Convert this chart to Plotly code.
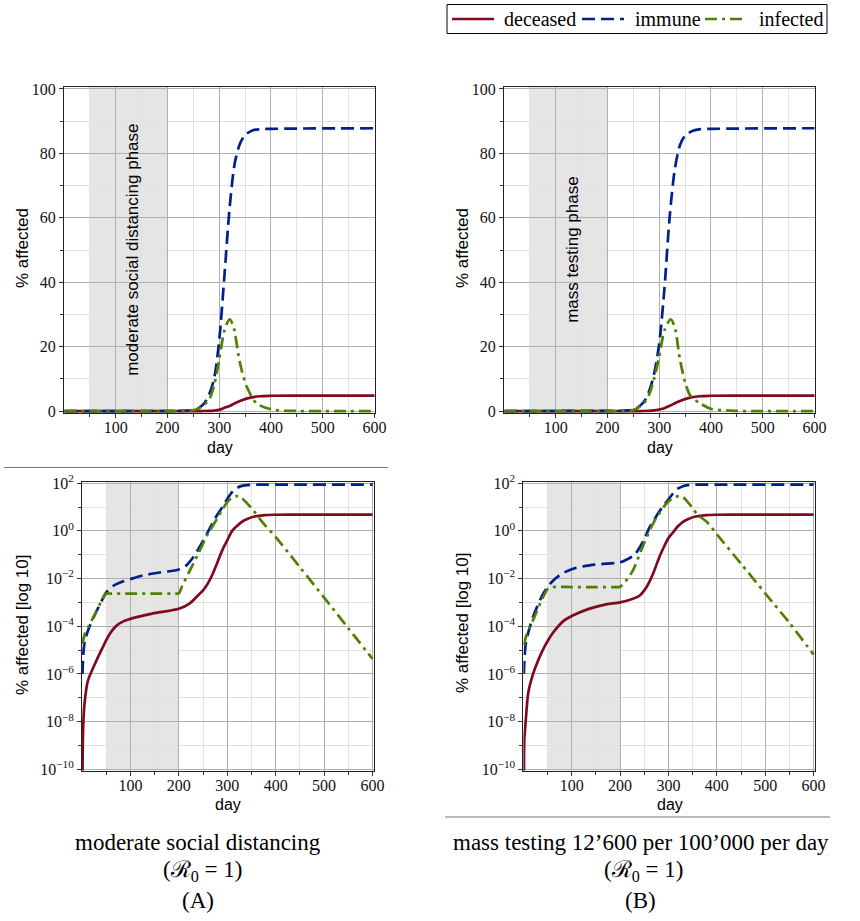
import plotly.graph_objects as go

W, H = 860, 921

# ---------------- data (percent of population) ----------------
# Scenario A: moderate social distancing
dec_a_days = [1, 2, 5, 12, 28, 42, 55, 70, 85, 105, 145, 200, 222, 240, 250, 260, 270, 280, 290,
              300, 310, 320, 330, 340, 356, 378, 400, 450, 600]
dec_a = [1e-11, 3e-9, 5e-8, 5e-7, 3e-6, 1.2e-5, 4e-5, 1.0e-4, 1.6e-4, 2.2e-4, 3.4e-4, 5.4e-4, 8.9e-4,
         2.0e-3, 3.2e-3, 6.3e-3, 0.016, 0.05, 0.16, 0.4, 1.0, 1.6, 2.4, 3.1, 4.0, 4.6, 4.75, 4.8, 4.8]

imm_a_days = [1, 3, 6, 15, 28, 40, 50, 65, 80, 100, 125, 160, 200, 215, 230, 245, 260, 270, 280, 290,
              300, 310, 320, 330, 340, 350, 365, 380, 400, 450, 600]
imm_a = [1e-6, 8e-6, 2.5e-5, 9e-5, 3.5e-4, 1.1e-3, 2.6e-3, 5e-3, 7e-3, 9.5e-3, 1.35e-2, 1.8e-2, 2.4e-2,
         3.5e-2, 0.08, 0.25, 0.9, 2.2, 5.0, 10.0, 22.0, 42.0, 63.0, 77.0, 83.0, 85.7, 87.2, 87.5, 87.6,
         87.7, 87.8]

inf_a_days = [1, 6, 15, 28, 40, 50, 60, 100, 150, 195, 200, 207, 220, 240, 260, 280, 290, 300, 310,
              320, 327, 340, 353, 372, 400, 450, 500, 550, 600]
inf_a = [1.8e-5, 5e-5, 1.1e-4, 3.6e-4, 1.1e-3, 2.3e-3, 2.35e-3, 2.35e-3, 2.35e-3, 2.35e-3, 2.4e-3,
         5e-3, 0.017, 0.11, 0.75, 3.5, 8.0, 16.0, 25.0, 28.5, 26.5, 15.0, 7.6, 2.4, 0.55, 0.03,
         1.6e-3, 8.2e-5, 4.3e-6]

# Scenario B: mass testing
dec_b_days = [1, 2, 4, 10, 20, 30, 41, 52, 62, 82, 103, 137, 171, 200, 225, 240, 250, 260, 270, 280,
              290, 300, 310, 320, 330, 340, 356, 378, 400, 450, 600]
dec_b = [1e-11, 2e-9, 6.3e-9, 1.6e-7, 1e-6, 3.5e-6, 1.1e-5, 2.8e-5, 5.6e-5, 1.6e-4, 2.9e-4, 5.5e-4,
         8.3e-4, 1.0e-3, 1.4e-3, 1.9e-3, 3.2e-3, 7e-3, 0.02, 0.07, 0.2, 0.5, 0.9, 1.6, 2.4, 3.1, 4.0,
         4.6, 4.75, 4.8, 4.8]

imm_b_days = [1, 3, 6, 20, 41, 55, 75, 103, 137, 171, 200, 215, 230, 250, 260, 270, 280, 290, 300,
              310, 320, 330, 340, 350, 365, 380, 400, 450, 600]
imm_b = [1e-6, 8e-6, 2.5e-5, 2.5e-4, 2.3e-3, 6e-3, 1.4e-2, 2.6e-2, 3.6e-2, 4.2e-2, 4.8e-2, 6.5e-2,
         0.1, 0.45, 1.3, 2.8, 6.0, 11.5, 21.0, 38.0, 60.0, 75.0, 82.5, 85.5, 87.0, 87.5, 87.6, 87.7, 87.8]

inf_b_days = [1, 6, 20, 41, 51, 60, 100, 150, 195, 200, 210, 226, 250, 270, 280, 290, 300, 310, 322,
              330, 340, 350, 360, 380, 400, 450, 500, 550, 600]
inf_b = [1.6e-5, 4e-5, 1.8e-4, 1.7e-3, 3.8e-3, 4.4e-3, 4.4e-3, 4.4e-3, 4.4e-3, 4.5e-3, 7e-3, 0.021,
         0.32, 2.4, 5.0, 10.0, 17.0, 25.0, 28.5, 26.0, 16.0, 9.0, 4.8, 2.3, 0.72, 0.042, 2.4e-3,
         1.4e-4, 6.5e-6]

series_names = ["deceased", "immune", "infected"]
colors = {"deceased": "#7f0a1e", "immune": "#00208c", "infected": "#4f8000"}
dashes = {"deceased": "solid", "immune": "13px,6px", "infected": "12px,5px,3px,5px"}

scenario_a = {"deceased": (dec_a_days, dec_a), "immune": (imm_a_days, imm_a),
              "infected": (inf_a_days, inf_a)}
scenario_b = {"deceased": (dec_b_days, dec_b), "immune": (imm_b_days, imm_b),
              "infected": (inf_b_days, inf_b)}

x_ticks = [100, 200, 300, 400, 500, 600]
x_minor = [50, 150, 250, 350, 450, 550]
lin_ticks = [0, 20, 40, 60, 80, 100]
lin_minor = [10, 30, 50, 70, 90]
log_tick_exps = [2, 0, -2, -4, -6, -8, -10]
log_minor_exps = [1, -1, -3, -5, -7, -9]

phase_start, phase_end = 50, 200

SERIF = "Liberation Serif, Times New Roman, serif"
SANS = "Liberation Sans, Arial, sans-serif"
MAJ = "#b0b0b0"
MIN = "#e2e2e2"
LW = 2.7


def px_x(p):
    return p / W


def px_y(p):
    return 1 - p / H


fig = go.Figure()

# panel definitions: (axis suffix, scenario, log?, x domain px, y domain px, x range)
panels = [
    ("", scenario_a, False, (64, 375), (413, 87), [0, 601]),
    ("2", scenario_b, False, (504, 815), (413, 87), [0, 601]),
    ("3", scenario_a, True, (82, 374), (770.5, 482), [0, 603]),
    ("4", scenario_b, True, (523.4, 815), (770.5, 482), [0, 603]),
]

layout_axes = {}
for idx, (suf, scen, is_log, xd, yd, xr) in enumerate(panels):
    for name in series_names:
        d, v = scen[name]
        fig.add_trace(go.Scatter(
            x=d, y=v, mode="lines", name=name,
            line=dict(color=colors[name], width=LW, dash=dashes[name], shape="spline", smoothing=0.8),
            xaxis="x" + suf, yaxis="y" + suf,
            showlegend=False, hoverinfo="skip",
        ))
    xa = dict(
        domain=[px_x(xd[0]), px_x(xd[1])], range=xr, anchor="y" + suf,
        tickmode="array", tickvals=x_ticks, ticktext=[str(t) for t in x_ticks],
        ticks="outside", ticklen=4, tickcolor="#333", ticklabelstandoff=-4,
        tickfont=dict(family=SERIF, size=16, color="#111"),
        showgrid=True, gridcolor=MAJ, gridwidth=1,
        minor=dict(tickvals=x_minor, showgrid=True, gridcolor=MIN, ticks="outside", ticklen=3,
                   tickcolor="#333"),
        showline=True, linecolor="#222", linewidth=1, mirror=True, zeroline=False,
        fixedrange=True, automargin=False,
    )
    if is_log:
        ya = dict(
            type="log", range=[-10.05, 2.05],
            tickmode="array", tickvals=[10.0 ** e for e in log_tick_exps],
            ticktext=["10<sup>%s</sup>" % (str(e).replace("-", "\u2212")) for e in log_tick_exps],
            minor=dict(tickvals=[10.0 ** e for e in log_minor_exps], showgrid=True, gridcolor=MIN,
                       ticks="outside", ticklen=3, tickcolor="#333"),
        )
    else:
        ya = dict(
            range=[-0.6, 100.6],
            tickmode="array", tickvals=lin_ticks, ticktext=[str(t) for t in lin_ticks],
            minor=dict(tickvals=lin_minor, showgrid=True, gridcolor=MIN, ticks="outside", ticklen=3,
                       tickcolor="#333"),
        )
    ya.update(
        domain=[px_y(yd[0]), px_y(yd[1])], anchor="x" + suf,
        ticks="outside", ticklen=4, tickcolor="#333",
        tickfont=dict(family=SERIF, size=16, color="#111"),
        showgrid=True, gridcolor=MAJ, gridwidth=1,
        showline=True, linecolor="#222", linewidth=1, mirror=True, zeroline=False,
        fixedrange=True, automargin=False,
    )
    layout_axes["xaxis" + suf] = xa
    layout_axes["yaxis" + suf] = ya

fig.update_layout(**layout_axes)

shapes = []
for suf, *_ in panels:
    shapes.append(dict(type="rect", xref="x" + suf, yref=("y" + suf + " domain"),
                       x0=phase_start, x1=phase_end, y0=0, y1=1,
                       fillcolor="#e5e5e5", line=dict(width=0), layer="below"))
# separator lines
shapes.append(dict(type="line", xref="paper", yref="paper", x0=px_x(4), x1=px_x(388),
                   y0=px_y(467.5), y1=px_y(467.5), line=dict(color="#777", width=1)))
shapes.append(dict(type="line", xref="paper", yref="paper", x0=px_x(445), x1=px_x(830),
                   y0=px_y(817), y1=px_y(817), line=dict(color="#777", width=1)))

annotations = []


def ann(text, x, y, size, family, angle=0, color="#000", xanchor="center"):
    annotations.append(dict(text=text, x=px_x(x), y=px_y(y), xref="paper", yref="paper",
                            showarrow=False, textangle=angle, xanchor=xanchor, yanchor="middle",
                            font=dict(family=family, size=size, color=color)))


# legend (box, line samples, labels)
shapes.append(dict(type="rect", xref="paper", yref="paper", x0=px_x(447), x1=px_x(827),
                   y0=px_y(33.5), y1=px_y(4.5), line=dict(color="#000", width=1),
                   fillcolor="white"))
legend_lines = {"deceased": (452, 494), "immune": (582, 624), "infected": (705, 747)}
legend_text_x = {"deceased": 502, "immune": 633, "infected": 757}
for name in series_names:
    x0, x1 = legend_lines[name]
    shapes.append(dict(type="line", xref="paper", yref="paper", x0=px_x(x0), x1=px_x(x1),
                       y0=px_y(19), y1=px_y(19),
                       line=dict(color=colors[name], width=LW, dash=dashes[name])))
    ann(name, legend_text_x[name], 19, 20, SERIF, xanchor="left")

# axis titles
ann("% affected", 22, 248, 17, SANS, -90)
ann("% affected", 462, 248, 17, SANS, -90)
ann("% affected [log 10]", 22, 625, 17, SANS, -90)
ann("% affected [log 10]", 462, 623, 17, SANS, -90)
ann("day", 220, 447, 16, SANS)
ann("day", 660, 447, 16, SANS)
ann("day", 228, 804, 16, SANS)
ann("day", 670, 804, 16, SANS)

# phase labels (inside top panels)
annotations.append(dict(text="moderate social distancing phase", x=131, y=50, xref="x", yref="y",
                        showarrow=False, textangle=-90, font=dict(family=SANS, size=17, color="#000")))
annotations.append(dict(text="mass testing phase", x=131, y=50, xref="x2", yref="y2",
                        showarrow=False, textangle=-90, font=dict(family=SANS, size=17, color="#000")))

# captions
ann("moderate social distancing", 198, 842, 23, SERIF)
ann("(\u211b<sub>0</sub> = 1)", 202, 871, 23, SERIF)
ann("(A)", 198, 900, 23, SERIF)
ann("mass testing 12\u2019600 per 100\u2019000 per day", 641, 842, 23, SERIF)
ann("(\u211b<sub>0</sub> = 1)", 643, 871, 23, SERIF)
ann("(B)", 640, 900, 23, SERIF)

fig.update_layout(
    width=W, height=H, margin=dict(l=0, r=0, t=0, b=0, autoexpand=False),
    paper_bgcolor="white", plot_bgcolor="white",
    shapes=shapes, annotations=annotations,
    showlegend=False,
)

fig.write_html("out.html")
